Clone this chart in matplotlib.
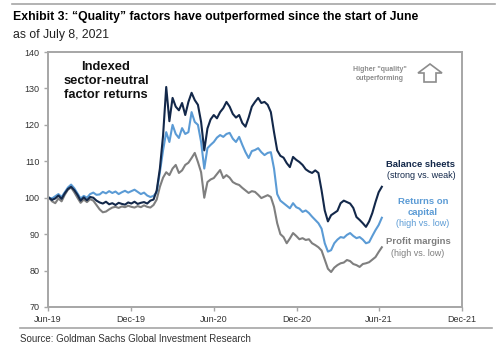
import matplotlib
matplotlib.use("Agg")
import matplotlib.pyplot as plt
from matplotlib.patches import Polygon
import pandas as pd

plt.rcParams['font.family'] = ['Liberation Sans', 'DejaVu Sans']

# ---------------- data (weekly, indexed to 100) ----------------
start_date = "2019-06-03"

balance_sheets = [
    100.0, 99.4, 99.8, 100.6, 99.7, 101.2, 102.4, 103.0, 102.1, 100.8,
    99.2, 100.1, 99.3, 100.2, 100.0, 99.2, 98.7, 98.4, 98.9, 98.2,
    98.5, 98.0, 98.6, 98.3, 98.1, 98.7, 98.4, 98.9, 98.3, 98.6,
    98.8, 98.4, 99.2, 99.5, 102.0, 108.0, 117.0, 130.4, 121.0, 127.4,
    125.0, 124.0, 126.0, 122.7, 126.3, 128.8, 126.8, 125.5, 120.8, 113.0,
    119.0, 121.5, 122.7, 121.8, 123.5, 124.6, 126.3, 125.0, 123.0, 122.0,
    122.7, 120.5, 119.5, 122.0, 125.0, 126.3, 127.4, 126.0, 126.3, 125.5,
    123.5, 118.0, 113.0, 111.5, 111.0, 109.5, 108.4, 111.2, 110.4, 109.8,
    109.0, 107.8, 107.2, 106.8, 107.5, 106.8, 102.0, 96.5, 93.5, 95.2,
    95.8, 96.4, 98.5, 99.2, 98.8, 98.4, 97.2, 94.7, 93.9, 93.0,
    92.0, 93.5, 95.8, 98.8, 101.5, 103.0,
]

returns_on_capital = [
    100.0, 99.8, 100.4, 101.0, 100.2, 101.5, 102.8, 103.6, 102.6, 101.2,
    99.8, 100.5, 100.0, 101.0, 101.4, 100.8, 100.9, 101.6, 101.2, 101.8,
    101.3, 101.7, 101.0, 101.5, 101.9, 101.4, 101.8, 102.2, 101.6, 101.0,
    101.4, 100.6, 100.2, 100.5, 101.5, 107.0, 113.0, 118.0, 115.3, 120.0,
    117.5, 116.4, 119.1, 117.5, 118.0, 123.5, 120.8, 120.0, 115.3, 108.0,
    113.6, 114.5, 115.3, 116.5, 117.2, 116.7, 117.5, 117.8, 116.2, 115.3,
    116.7, 114.5, 112.5, 110.9, 112.8, 113.1, 113.6, 112.5, 111.7, 112.3,
    112.5, 108.0, 101.0, 99.2, 98.5, 97.8, 97.1, 98.5, 97.4, 97.0,
    96.1, 96.5, 95.8, 94.8, 93.9, 93.0, 91.5, 87.5, 85.2, 85.6,
    87.5, 88.5, 89.2, 89.0, 89.8, 90.3, 89.5, 88.9, 89.2, 88.5,
    87.5, 87.8, 89.5, 91.1, 92.5, 94.5,
]

profit_margins = [
    100.0, 99.0, 98.5, 99.8, 99.0, 100.8, 102.2, 102.8, 101.5, 100.0,
    98.6, 99.5, 98.8, 99.6, 99.2, 98.0, 96.8, 96.0, 96.2, 96.8,
    97.3, 97.5, 97.2, 97.6, 97.4, 97.8, 97.5, 97.3, 97.7, 97.4,
    97.9, 97.5, 97.3, 98.0, 99.5, 103.0, 105.5, 107.0, 106.2, 108.0,
    109.0, 106.8, 107.5, 109.0, 109.6, 110.9, 112.3, 109.8, 107.0, 100.0,
    104.3, 105.0, 105.4, 106.5, 107.6, 105.4, 106.2, 105.5, 104.3, 103.8,
    103.5, 102.7, 102.0, 101.3, 101.8, 101.6, 100.8, 99.9, 100.3, 100.7,
    100.2, 97.5, 93.0, 90.0, 89.2, 87.5, 88.8, 90.3, 89.5, 88.6,
    88.9, 88.4, 88.6, 87.5, 87.0, 86.4, 85.5, 83.0, 80.5, 79.6,
    80.8, 81.5, 82.0, 82.2, 82.9, 82.6, 81.8, 81.5, 81.0, 81.8,
    82.0, 82.3, 83.0, 83.7, 85.1, 86.4,
]

tick_dates = ["2019-06-01", "2019-12-01", "2020-06-01", "2020-12-01", "2021-06-01", "2021-12-01"]
tick_labels = ["Jun-19", "Dec-19", "Jun-20", "Dec-20", "Jun-21", "Dec-21"]
y_ticks = [70, 80, 90, 100, 110, 120, 130, 140]

# ---------------- styling ----------------
NAVY = "#13284a"
LBLUE = "#5b9bd5"
GRAY = "#7f7f7f"
SPINE = "#a6a6a6"

dates = pd.date_range(start_date, periods=len(balance_sheets), freq="7D")

fig = plt.figure(figsize=(5, 3.5), dpi=100)
fig.patch.set_facecolor("white")
ax = fig.add_axes([48/500, 1-307/350, (462-48)/500, (307-52)/350])

ax.plot(dates, profit_margins, color=GRAY, lw=1.5)
ax.plot(dates, returns_on_capital, color=LBLUE, lw=1.5)
ax.plot(dates, balance_sheets, color=NAVY, lw=1.5)

ax.set_xlim(pd.Timestamp(tick_dates[0]), pd.Timestamp(tick_dates[-1]))
ax.set_ylim(70, 140)
ax.set_yticks(y_ticks)
ax.set_yticklabels([str(v) for v in y_ticks])
ax.set_xticks([pd.Timestamp(d) for d in tick_dates])
ax.set_xticklabels(tick_labels)

for s in ax.spines.values():
    s.set_color(SPINE)
    s.set_linewidth(1.4)
ax.tick_params(axis="both", colors=SPINE, labelcolor="#333333", labelsize=6.5,
               length=3, width=1, direction="out", pad=3)


def fig_text(px, py, s, **kw):
    fig.text(px/500, 1-py/350, s, **kw)


fig_text(106, 81, "Indexed\nsector-neutral\nfactor returns", ha="center", va="center",
         fontsize=9.3, fontweight="bold", color="#111111", linespacing=1.25)
fig_text(380, 74, "Higher \"quality\"\noutperforming", ha="center", va="center",
         fontsize=5, fontweight="bold", color="#8c8c8c", linespacing=1.3)

# hollow up arrow
arrow_px = [(430, 64), (442, 73), (436, 73), (436, 82), (424, 82), (424, 73), (418, 73)]
arrow = Polygon([(x/500, 1-y/350) for x, y in arrow_px], closed=True, fill=False,
                edgecolor="#8c8c8c", lw=1.2, transform=fig.transFigure)
fig.patches.append(arrow)

fig_text(421, 164, "Balance sheets", ha="center", va="center", fontsize=6.8,
         fontweight="bold", color=NAVY)
fig_text(421, 175, "(strong vs. weak)", ha="center", va="center", fontsize=6.5, color=NAVY)

fig_text(423, 201, "Returns on", ha="center", va="center", fontsize=6.8,
         fontweight="bold", color=LBLUE)
fig_text(423, 212, "capital", ha="center", va="center", fontsize=6.8,
         fontweight="bold", color=LBLUE)
fig_text(423, 223, "(high vs. low)", ha="center", va="center", fontsize=6.5, color=LBLUE)

fig_text(418, 242, "Profit margins", ha="center", va="center", fontsize=6.8,
         fontweight="bold", color=GRAY)
fig_text(418, 253, "(high vs. low)", ha="center", va="center", fontsize=6.5, color=GRAY)

# header / footer
fig.add_artist(plt.Line2D([12/500, 495/500], [1-4/350, 1-4/350], color="#a6a6a6", lw=1.2))
fig_text(13, 17, "Exhibit 3: \u201cQuality\u201d factors have outperformed since the start of June",
         ha="left", va="center", fontsize=8.8, fontweight="bold", color="#000000")
fig_text(13, 35, "as of July 8, 2021", ha="left", va="center", fontsize=8.8, color="#222222")

fig.add_artist(plt.Line2D([20/500, 492/500], [1-328/350, 1-328/350], color="#a6a6a6", lw=1.2))
fig_text(20, 339, "Source: Goldman Sachs Global Investment Research", ha="left", va="center",
         fontsize=7, color="#333333")

fig.savefig("out.png", dpi=100, facecolor="white")
